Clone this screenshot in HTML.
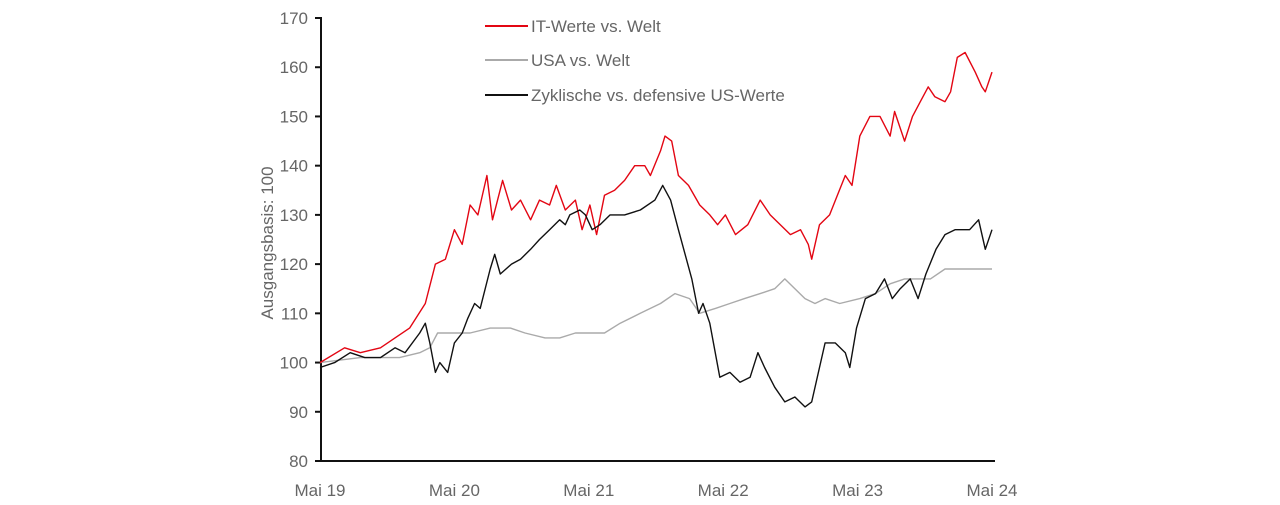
<!DOCTYPE html>
<html><head><meta charset="utf-8"><style>
body{margin:0;background:#fff;width:1280px;height:505px;overflow:hidden}
svg{display:block;font-family:"Liberation Sans",sans-serif}
</style></head><body>
<svg id="chart" width="1280" height="505" viewBox="0 0 1280 505">
<g id="grid"></g><g id="series"></g>
<g font-size="17" fill="#666">
 <g><line x1="485" y1="26" x2="528" y2="26" stroke="#e30613" stroke-width="2"/><text x="531" y="32">IT-Werte vs. Welt</text></g>
 <g><line x1="485" y1="60" x2="528" y2="60" stroke="#aaa" stroke-width="2"/><text x="531" y="66">USA vs. Welt</text></g>
 <g><line x1="485" y1="95" x2="528" y2="95" stroke="#111" stroke-width="2"/><text x="531" y="101">Zyklische vs. defensive US-Werte</text></g>
</g>
<text transform="translate(273,243) rotate(-90)" text-anchor="middle" font-size="17" fill="#666">Ausgangsbasis: 100</text>
</svg>
<script>
const yTicks=[80,90,100,110,120,130,140,150,160,170];
const xTickLabels=["Mai 19","Mai 20","Mai 21","Mai 22","Mai 23","Mai 24"];
const itMonths=[0,2.2,3.6,5.4,6.7,8,9.4,10.3,11.2,12,12.7,13.4,14.1,14.9,15.4,16.3,17.1,17.9,18.8,19.6,20.5,21.1,21.9,22.8,23.4,24.1,24.7,25.4,26.3,27.2,28.1,29,29.5,30.4,30.8,31.4,32,32.9,33.9,34.8,35.5,36.2,37.1,38.2,39.3,40.2,41.1,42,42.9,43.6,43.9,44.6,45.5,46.2,46.9,47.5,48.2,49.1,50,50.9,51.3,52.2,52.9,53.6,54.3,54.9,55.8,56.3,56.9,57.6,58.5,59.1,59.4,60];
const itValues=[100,103,102,103,105,107,112,120,121,127,124,132,130,138,129,137,131,133,129,133,132,136,131,133,127,132,126,134,135,137,140,140,138,143,146,145,138,136,132,130,128,130,126,128,133,130,128,126,127,124,121,128,130,134,138,136,146,150,150,146,151,145,150,153,156,154,153,155,162,163,159,156,155,159];
const zykMonths=[0,1.3,2.7,4,5.4,6.7,7.6,8.9,9.4,9.8,10.3,10.7,11.4,12,12.7,13.2,13.8,14.3,15.2,15.6,16.1,17.1,17.9,18.8,19.6,20.5,21.4,21.9,22.3,23.2,23.7,24.3,25,25.9,27.2,28.6,29.9,30.6,31.3,32,32.6,33.2,33.8,34.2,34.8,35.7,36.6,37.5,38.4,39.1,39.7,40.6,41.5,42.4,43.3,43.9,44.6,45.1,46,46.9,47.3,47.9,48.7,49.6,50.4,51.1,51.8,52.7,53.4,54.1,55,55.8,56.7,58,58.8,59.4,60];
const zykValues=[99,100,102,101,101,103,102,106,108,104,98,100,98,104,106,109,112,111,119,122,118,120,121,123,125,127,129,128,130,131,130,127,128,130,130,131,133,136,133,127,122,117,110,112,108,97,98,96,97,102,99,95,92,93,91,92,99,104,104,102,99,107,113,114,117,113,115,117,113,118,123,126,127,127,129,123,127];
const usaMonths=[0,3.6,7.1,8.9,9.8,10.5,11.6,13.4,15.2,17,18.3,20.1,21.4,22.8,24.1,25.4,26.8,28.6,30.4,31.7,33,33.9,35.3,36.6,37.9,39.3,40.6,41.5,42.4,43.3,44.2,45.1,46.4,48.2,49.6,50.9,52.2,53.6,54.5,55.8,57.1,58.5,60];
const usaValues=[100,101,101,102,103,106,106,106,107,107,106,105,105,106,106,106,108,110,112,114,113,110,111,112,113,114,115,117,115,113,112,113,112,113,114,116,117,117,117,119,119,119,119];

const NS="http://www.w3.org/2000/svg";
const X0=321,X1=992,Y0=461,Y1=18;
function xs(m){return 320+m*(X1-320)/60;}
function ys(v){return Y0-(v-80)*(Y0-Y1)/90;}
const grid=document.getElementById('grid'),ser=document.getElementById('series');
function mk(tag,attrs,parent){const e=document.createElementNS(NS,tag);for(const k in attrs)e.setAttribute(k,attrs[k]);parent.appendChild(e);return e;}
yTicks.forEach(v=>{
 const t=mk('line',{x1:315,x2:X0,y1:ys(v),y2:ys(v),stroke:'#111','stroke-width':2},grid);
 
 
 const l=mk('text',{x:308,y:ys(v)+6,'text-anchor':'end','font-size':17,fill:'#666'},grid);
 l.textContent=v;
 
 
});
xTickLabels.forEach((s,i)=>{
 const l=mk('text',{x:xs(i*12),y:496,'text-anchor':'middle','font-size':17,fill:'#666'},grid);
 l.textContent=s;
 
 
});
function series(ms,vs,color,name){
 const d=ms.map((m,i)=>(i?'L':'M')+xs(m).toFixed(1)+','+ys(vs[i]).toFixed(1)).join('');
 const p=mk('path',{d:d,fill:'none',stroke:color,'stroke-width':1.4,'stroke-linejoin':'round'},ser);
 
 
}
series(usaMonths,usaValues,'#aaa','usa-line');
series(itMonths,itValues,'#e30613','it-line');
series(zykMonths,zykValues,'#111','zyklisch-line');
const ya=mk('line',{x1:X0,x2:X0,y1:Y1-1,y2:Y0+1,stroke:'#111','stroke-width':2},grid);


const xa=mk('line',{x1:X0-1,x2:995,y1:Y0,y2:Y0,stroke:'#111','stroke-width':2},grid);


</script>
</body></html>
